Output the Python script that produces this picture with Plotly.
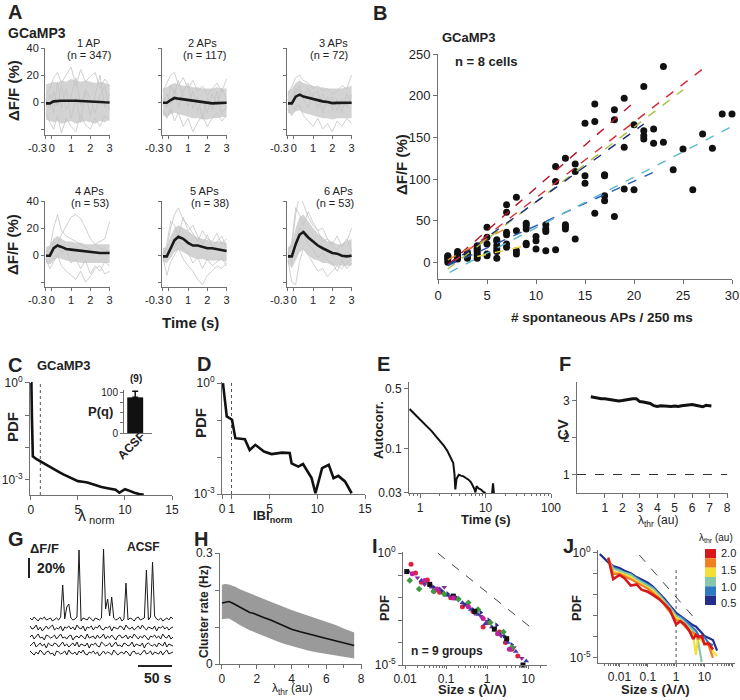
import plotly.graph_objects as go

W, H = 740, 700
FONT = "Liberation Sans, Arial, sans-serif"
AX = "#707070"
TXT = "#222222"

# ---------------- data ----------------
# Panel A: time base and traces (dF/F %)
tA = [-0.3, -0.1, 0.1, 0.3, 0.5, 0.75, 1.0, 1.25, 1.5, 1.75, 2.0, 2.25, 2.5, 2.75, 3.0]
A_ticks = [-0.3, 0, 1, 2, 3]
A_ticklabels = ["-0.3", "0", "1", "2", "3"]
A_titles = ["1 AP", "2 APs", "3 APs", "4 APs", "5 APs", "6 APs"]
A_counts = ["(n = 347)", "(n = 117)", "(n = 72)", "(n = 53)", "(n = 38)", "(n = 53)"]
up1 = [13, 14, 15, 14, 16, 15, 17, 16, 15, 16, 15, 14, 15, 14, 13]
lo1 = [-13, -14, -15, -14, -16, -15, -14, -16, -15, -14, -15, -16, -14, -15, -13]
o1 = [[5, 10, 18, 22, 14, 20, 26, 12, 24, 15, 19, 22, 10, 17, 12],
      [-8, -15, -20, -10, -23, -12, -18, -22, -9, -17, -20, -12, -18, -10, -14],
      [2, -5, 8, -3, 12, -6, 4, 18, -2, 8, -10, 5, 20, -4, 6],
      [-3, 6, -8, 15, -5, 10, -12, 3, -15, 10, 2, -8, 5, 12, -6]]
mean1 = [-1, -1, 0.5, 1, 1, 1, 1.2, 1, 0.8, 0.5, 0.3, 0, -0.2, -0.2, -0.3]
up2 = [10, 11, 13, 14, 13, 12, 12, 11, 11, 10, 10, 10, 11, 10, 10]
lo2 = [-10, -11, -9, -8, -9, -10, -11, -12, -12, -13, -13, -12, -12, -11, -11]
o2 = [[8, 14, 20, 22, 12, 18, 10, 16, 8, 12, 5, 10, 14, 8, 17],
      [-6, -12, -5, -14, -8, -18, -12, -22, -15, -10, -18, -12, -8, -14, -10],
      [3, -4, 12, 6, 16, 4, -3, 8, -6, 2, -8, 6, -2, 10, 2],
      [-2, 6, -2, 10, -4, 8, 14, -5, 4, -12, 3, -6, 8, -9, -3]]
mean2 = [-0.5, -0.5, 1.5, 3, 2.5, 2, 1.5, 1, 0.5, -0.3, -1, -1, -0.8, -0.5, -0.5]
up3 = [8, 10, 14, 16, 14, 13, 12, 11, 11, 10, 10, 10, 10, 11, 12]
lo3 = [-8, -9, -7, -6, -8, -9, -10, -11, -12, -12, -13, -12, -12, -12, -12]
o3 = [[5, 12, 18, 20, 16, 14, 10, 12, 8, 10, 6, 8, 12, 10, 20],
      [-5, -10, -4, -2, -10, -14, -18, -12, -20, -16, -22, -14, -18, -12, -16],
      [2, -3, 10, 8, 4, 10, 2, -4, 6, -2, 4, -6, 2, -4, 5],
      [-2, 4, 6, 12, 2, -4, 6, 8, -8, 4, -6, 2, -8, 6, -2]]
mean3 = [-1, -1, 4, 5.5, 4, 3, 2, 1.5, 0.5, 0, -0.8, -0.6, -0.5, -0.5, -0.5]
up4 = [6, 7, 12, 14, 12, 10, 10, 9, 9, 8, 8, 8, 8, 8, 8]
lo4 = [-6, -7, -4, -2, -3, -4, -5, -5, -6, -6, -6, -6, -6, -6, -6]
o4 = [[2, 5, 20, 30, 18, 14, 12, 10, 8, 6, 4, 8, 10, 12, 25],
      [0, 2, 5, 8, 15, 22, 28, 30, 27, 20, 12, 8, 5, 4, 3],
      [-3, -10, -5, 0, -8, -12, -15, -18, -12, -20, -16, -10, -8, -14, -12],
      [1, -2, 10, 6, 2, 4, -6, -3, -10, -4, -14, -8, -12, -5, -8]]
mean4 = [-0.5, -0.5, 5, 7, 6, 4.5, 4, 3.5, 3, 3, 2, 1.5, 1.5, 1.5, 1.5]
up5 = [5, 6, 14, 20, 22, 20, 18, 15, 13, 12, 11, 10, 10, 10, 9]
lo5 = [-5, -6, -2, 2, 4, 2, 0, -2, -3, -3, -4, -4, -4, -4, -5]
o5 = [[2, 4, 20, 30, 35, 26, 22, 16, 10, 18, 12, 10, 16, 8, 12],
      [-2, -15, -5, 0, 5, -3, -8, -12, -18, -22, -15, -12, -8, -10, -6],
      [0, 8, 25, 22, 14, 28, 18, 22, 14, 8, 15, 6, 10, 14, 5],
      [-4, 0, 4, 6, 10, 5, 2, -6, -2, -10, -3, -8, -5, -2, -8]]
mean5 = [-1, -1, 5, 11, 13.5, 12, 9, 7, 7, 6, 5, 5, 4.5, 4, 3]
up6 = [6, 8, 20, 28, 30, 25, 20, 16, 13, 10, 10, 8, 8, 10, 12]
lo6 = [-6, -10, -4, 2, 4, 0, -3, -4, -6, -6, -8, -8, -8, -8, -8]
o6 = [[4, 6, 30, 45, 38, 28, 22, 18, 10, 12, 6, 4, 8, 10, 20],
      [-4, -20, -22, -5, 5, 0, -6, -12, -10, -16, -12, -8, -10, -6, -4],
      [0, 10, 35, 30, 22, 32, 24, 18, 20, 12, 8, 14, 6, 12, 3],
      [2, -6, 10, 20, 16, 8, 4, -2, 2, -4, -6, -12, -4, -10, -6]]
mean6 = [-1, -1, 8, 15, 17, 13, 10, 7, 5, 3, 1.5, 1, -0.5, -1, -0.5]
A_up = [up1, up2, up3, up4, up5, up6]
A_lo = [lo1, lo2, lo3, lo4, lo5, lo6]
A_out = [o1, o2, o3, o4, o5, o6]
A_mean = [mean1, mean2, mean3, mean4, mean5, mean6]

# Panel B: scatter of dF/F vs spontaneous APs, and per-cell fits
bx = [1, 1, 1, 1, 1, 2, 2, 2, 2, 2, 3, 3, 3, 3, 4, 4, 4, 4, 4, 4, 4, 5, 5, 5, 5, 5,
      6, 6, 6, 6, 6, 6, 7, 7, 7, 7, 7, 7, 8, 8, 8, 8, 9, 9, 9, 9, 9, 10, 10, 10,
      11, 11, 11, 11, 12, 12, 12, 13, 13, 13, 13, 14, 14, 14, 15, 15, 15, 16, 16, 16,
      17, 17, 17, 17, 18, 18, 18, 19, 19, 19, 20, 20, 21, 21, 21, 21, 22, 22, 23, 23,
      24, 25, 26, 27, 28, 29, 30]
by = [0, 3, 5, 7, 8, 4, 6, 8, 10, 13, 5, 8, 10, 12, 5, 8, 10, 13, 15, 17, 20, 8, 10, 22, 30, 42,
      5, 13, 16, 20, 25, 27, 18, 22, 33, 36, 60, 69, 10, 14, 38, 78, 21, 23, 40, 44, 47, 16, 26, 31,
      14, 37, 40, 45, 15, 97, 115, 40, 43, 45, 125, 28, 109, 118, 95, 104, 167, 59, 169, 190,
      74, 80, 104, 105, 55, 171, 183, 88, 138, 197, 87, 165, 148, 152, 158, 211, 143, 160, 144, 235,
      111, 136, 87, 154, 137, 178, 178]
fit_x0 = [1, 1.5, 1, 1, 1, 1.2, 4, 1]
fit_x1 = [20, 27, 25, 21, 22, 30, 9, 7]
fit_y0 = [-3, 0, -8, -4, -4, -12, 7, 3]
fit_y1 = [192, 232, 207, 166, 108, 163, 20, 41]
fit_colors = ["#b8102a", "#d42a3a", "#a8c040", "#1a2a80", "#2a5ab0", "#5ab8c8", "#e8d840", "#e88a30"]

# Panel C: PDF of lambda_norm (log10 PDF)
xC = [0.0, 0.05, 0.1, 0.2, 0.6, 1.0, 1.5, 2.0, 2.5, 3.0, 3.5, 4.0, 4.5, 5.0, 5.5, 6.0, 6.5, 7.0,
      7.5, 8.0, 8.5, 9.0, 9.4, 9.7, 10.0, 10.3, 10.6, 11.0, 11.5, 12.0]
lyC = [0.0, 0.0, -1.0, -2.27, -2.36, -2.43, -2.52, -2.6, -2.68, -2.76, -2.84, -2.91, -2.98, -3.04,
       -3.06, -3.08, -3.13, -3.18, -3.22, -3.25, -3.28, -3.31, -3.40, -3.35, -3.29, -3.32, -3.36,
       -3.40, -3.44, -3.46]
inset_cat = ["ACSF"]
inset_val = [87]
inset_err = [15]
inset_n = "(9)"

# Panel D: PDF of IBI_norm (log10 PDF)
xD = [0.1, 0.5, 1.05, 1.4, 2.4, 2.9, 3.5, 4.4, 5.2, 6.3, 7.1, 7.3, 8.0, 8.5, 9.4, 9.8, 10.5,
      11.2, 11.7, 12.2, 12.9, 13.6]
lyD = [0.0, -0.9, -0.99, -1.49, -1.52, -1.81, -1.67, -1.85, -1.92, -1.88, -1.89, -2.17, -2.26,
       -2.19, -2.57, -2.98, -2.3, -2.21, -2.57, -2.51, -2.66, -2.98]

# Panel E: autocorrelation
xE = [0.69, 0.8, 1.0, 1.25, 1.5, 1.8, 2.0, 2.3, 2.6, 2.9, 3.2, 3.35, 3.45, 3.6, 3.9, 4.2, 4.6,
      5.0, 5.5, 6.0, 6.5, 6.8, 7.0, 7.3, 7.8, 8.5, 9.2, 10.0]
yE = [0.29, 0.26, 0.22, 0.185, 0.16, 0.135, 0.123, 0.108, 0.094, 0.08, 0.068, 0.05, 0.033, 0.044,
      0.049, 0.048, 0.047, 0.045, 0.043, 0.04, 0.036, 0.033, 0.0305, 0.036, 0.034, 0.033, 0.031, 0.030]
xE2 = [12.6, 13.0, 13.4]
yE2 = [0.030, 0.039, 0.030]

# Panel F: CV vs threshold
xF = [0.2, 0.4, 0.6, 0.8, 1.0, 1.2, 1.4, 1.6, 1.8, 2.0, 2.2, 2.4, 2.6, 2.8, 3.0, 3.2, 3.4, 3.6,
      3.8, 4.0, 4.2, 4.4, 4.6, 4.8, 5.0, 5.2, 5.4, 5.6, 5.8, 6.0, 6.2, 6.4, 6.6, 6.8, 7.0, 7.1]
yF = [3.1, 3.08, 3.06, 3.05, 3.05, 3.03, 3.02, 3.0, 2.99, 3.0, 3.02, 3.03, 3.05, 3.05, 2.97, 2.96,
      2.95, 2.92, 2.86, 2.84, 2.86, 2.85, 2.83, 2.84, 2.85, 2.84, 2.86, 2.87, 2.88, 2.89, 2.87, 2.85,
      2.83, 2.87, 2.85, 2.85]
cv_poisson = 1

# Panel G: example dF/F traces (%), sampled every 3 s
G_dt = 3
G_offsets = [0, -9, -18, -26, -34]
G_traces = [
    [1, -1, 2, 0, -2, 1, 0, 2, -1, 0, 1, -2, 0, 1, -1, 2, 34, 0, 12, 15, 1, -1, 0, 2, 69, -2, 1, 0,
     -1, 2, 0, -2, 1, 0, -1, 1, 70, 10, 20, 3, 22, 1, -1, 0, 2, -2, 0, 36, -1, 1, 0, -2, 1, 2, -1, 0,
     1, 49, -1, 2, 57, 3, 0, -1, 1, -2, 0, 1, -1, 2, 0],
    [2, -1, 0, 3, -2, 1, -3, 0, 2, -1, 1, 3, -2, 0, -1, 2, -3, 1, 0, 2, -1, 1, -2, 3, 0, -1, 2, -3,
     1, 0, 2, -2, 1, 0, 3, -1, -2, 1, 0, 2, -3, 1, 0, -1, 2, 1, -2, 3, 0, -1, 1, -2, 0, 2, -1, 3, 0,
     -2, 1, 0, -1, 2, -3, 1, 0, 2, -1, 1, -2, 0, 1],
    [0, 2, -2, 1, 3, -1, 0, -3, 2, 1, -1, 0, 2, -2, 1, 3, -1, 0, -2, 1, 2, -3, 0, 1, -1, 2, 0, -2,
     3, -1, 0, 1, -2, 2, -1, 0, 3, -2, 1, -1, 2, 0, -3, 1, 2, -1, 0, 2, -2, 1, -1, 3, 0, -2, 1, -1,
     2, 0, -3, 1, 0, 2, -1, 1, -2, 3, 0, -1, 2, -2, 0],
    [-1, 1, 3, -2, 0, 2, -1, 1, -3, 2, 0, -1, 2, 1, -2, 0, 3, -1, 1, -2, 0, 2, -1, 3, -2, 1, 0, -1,
     2, -3, 1, 0, 2, -1, -2, 3, 1, -1, 0, 2, -2, 1, 3, -1, 0, -2, 2, 1, -1, 0, 3, -2, 1, 0, -1, 2,
     -3, 1, 2, 0, -1, 1, -2, 2, 0, -1, 3, -2, 1, 0, -1],
    [2, 0, -2, 1, -1, 3, 0, -2, 1, 2, -1, 0, -3, 2, 1, -1, 0, 2, -2, 3, 0, -1, 1, -2, 2, 0, 3, -1,
     -2, 1, 0, 2, -1, 1, -3, 0, 2, -1, 1, 0, -2, 3, 1, -2, 0, 1, -1, 2, 0, -3, 1, 2, -1, 0, -2, 1,
     3, -1, 0, 2, -2, 1, 0, -1, 2, -2, 1, 3, -1, 0, 1],
]
G_bar_pct = 20
G_bar_s = 50

# Panel H: cluster rate vs threshold
xH = [0, 0.2, 0.4, 0.6, 0.8, 1.0, 1.2, 1.4, 1.6, 1.8, 2.0, 2.4, 2.8, 3.2, 3.6, 4.0, 4.5, 5.0,
      5.5, 6.0, 6.5, 7.0, 7.6]
meanH = [0.165, 0.168, 0.169, 0.165, 0.16, 0.155, 0.15, 0.145, 0.139, 0.137, 0.134, 0.126, 0.119,
         0.111, 0.102, 0.094, 0.087, 0.08, 0.075, 0.069, 0.063, 0.057, 0.05]
upH = [0.214, 0.216, 0.215, 0.212, 0.208, 0.203, 0.199, 0.195, 0.19, 0.186, 0.182, 0.175, 0.168,
       0.161, 0.153, 0.146, 0.138, 0.13, 0.122, 0.115, 0.106, 0.096, 0.085]
loH = [0.121, 0.122, 0.123, 0.118, 0.112, 0.106, 0.1, 0.096, 0.091, 0.086, 0.082, 0.075, 0.068,
       0.061, 0.054, 0.048, 0.042, 0.036, 0.031, 0.027, 0.023, 0.019, 0.015]

# Panel I: cluster size PDFs, 9 groups (shown as colour sets)
I_sets = [
    dict(c="#e3203c", s="circle",
         x=[0.014, 0.018, 0.025, 0.035, 0.05, 0.07, 0.13, 0.25, 0.45, 0.8, 1.1, 2.0, 2.8, 4.0, 5.6],
         y=[0.32, 0.13, 0.05, 0.063, 0.02, 0.018, 0.01, 0.004, 0.0025, 5e-4, 8e-4, 3e-4, 1e-4, 5e-5, 2.5e-5]),
    dict(c="#8a2b9e", s="triangle-down",
         x=[0.02, 0.03, 0.04, 0.06, 0.09, 0.12, 0.2, 0.3, 0.5, 0.7, 1.0, 1.5, 2.2, 3.0, 4.5, 7.0],
         y=[0.08, 0.04, 0.035, 0.022, 0.03, 0.012, 0.008, 0.005, 0.002, 0.0015, 9e-4, 4e-4, 2e-4, 1.2e-4, 6e-5, 2e-5]),
    dict(c="#3a3aa8", s="triangle-up",
         x=[0.012, 0.025, 0.045, 0.07, 0.1, 0.16, 0.25, 0.4, 0.6, 0.9, 1.3, 2.0, 3.2, 5.0, 9.0],
         y=[0.15, 0.06, 0.03, 0.025, 0.013, 0.009, 0.006, 0.003, 0.0018, 7e-4, 5e-4, 2.5e-4, 1e-4, 4e-5, 1.5e-5]),
    dict(c="#2c2f8a", s="triangle-right",
         x=[0.03, 0.05, 0.08, 0.11, 0.18, 0.28, 0.45, 0.7, 1.1, 1.7, 2.6, 4.0],
         y=[0.05, 0.03, 0.02, 0.015, 0.01, 0.005, 0.003, 0.0022, 0.001, 6e-4, 2e-4, 8e-5]),
    dict(c="#3e9a3e", s="diamond",
         x=[0.013, 0.022, 0.05, 0.09, 0.2, 0.35, 0.6, 1.2, 2.5, 4.0],
         y=[0.06, 0.025, 0.02, 0.015, 0.009, 0.006, 0.003, 8e-4, 3e-4, 6e-5]),
    dict(c="#111111", s="square",
         x=[0.011, 0.04, 0.15, 0.5, 1.5, 3.0, 7.5],
         y=[0.15, 0.04, 0.012, 0.0025, 4e-4, 1.5e-4, 1e-5]),
    dict(c="#c0209f", s="circle",
         x=[0.015, 0.03, 0.06, 0.15, 0.35, 0.8, 1.8, 3.5],
         y=[0.12, 0.06, 0.025, 0.01, 0.004, 0.0012, 2.5e-4, 5e-5]),
]
I_guide_x = [0.063, 14]
I_guide_ly = [0.0, -3.44]

# Panel J: size PDFs for different thresholds (log10 PDF)
xJ = [0.002, 0.004, 0.006, 0.01, 0.015, 0.025, 0.04, 0.06, 0.1, 0.15, 0.25, 0.4, 0.6, 1.0, 1.4,
      2.0, 2.8, 4.0, 5.0, 6.0, 8.0, 10.0, 14.0, 20.0, 28.0]
N = None
J_colors = ["#232d8c", "#2f78c4", "#86c8aa", "#f3df3a", "#f07f22", "#d7191c"]
J_curves = [
    [-0.05, -0.45, -0.62, -0.72, -0.85, -0.97, -1.15, -1.28, -1.42, -1.6, -1.9, -2.2, -2.5, -2.85,
     -3.0, -3.15, -3.3, -3.45, -3.5, -3.6, -3.8, -3.95, -4.05, -4.15, -4.65],
    [N, -0.35, -0.7, -0.8, -0.95, -1.0, -1.2, -1.35, -1.5, -1.65, -1.95, -2.25, -2.55, -2.95,
     -3.05, -3.2, -3.4, -3.6, -3.7, -3.9, -4.1, -4.0, -4.3, -4.4, N],
    [N, -0.3, -0.75, -0.85, -0.95, -1.05, -1.25, -1.4, -1.55, -1.7, -2.0, -2.3, -2.6, -3.0,
     -3.1, -3.3, -3.5, -3.7, -3.9, -4.2, -5.2, N, N, N, N],
    [N, -0.3, -0.9, -0.95, -1.05, -1.15, -1.35, -1.5, -1.65, -1.8, -2.1, -2.4, -2.7, -3.1,
     -3.2, -3.4, -3.6, -3.9, -4.85, -4.0, -4.2, -4.3, -4.4, -4.7, -4.9],
    [N, -0.2, -1.0, -1.0, -1.1, -1.25, -1.4, -1.55, -1.7, -1.9, -2.15, -2.5, -2.8, -3.2,
     -3.25, -3.5, -3.7, -3.8, -3.9, -4.1, -4.0, -4.3, -4.4, -5.0, N],
    [N, -0.25, -1.25, -1.05, -1.2, -1.55, -1.5, -1.75, -1.85, -2.0, -2.2, -2.45, -2.7, -3.4,
     -3.25, -3.4, -3.65, -4.1, -3.9, -4.0, -3.95, -4.35, -4.3, -4.6, N],
]
J_key_labels = ["2.0", "1.5", "1.0", "0.5"]
J_guide_x = [0.05, 4.8]
J_guide_ly = [-0.1, -3.16]

# ---------------- figure ----------------
fig = go.Figure()
layout = {}
anns = []
shapes = []


def ax_key(kind, n):
    return kind + ("axis" if n == 1 else "axis%d" % n)


def ref(kind, n):
    return kind if n == 1 else "%s%d" % (kind, n)


def base(**kw):
    d = dict(showline=True, linecolor=AX, linewidth=1, ticks="outside", ticklen=4, tickwidth=1,
             tickcolor=AX, showgrid=False, zeroline=False, fixedrange=True, automargin=False,
             tickangle=0, tickfont=dict(size=11, color=TXT, family=FONT))
    d.update(kw)
    return d


def axes(n, x0, x1, y0, y1, xcfg, ycfg):
    xc = base(domain=[x0 / W, x1 / W], anchor=ref("y", n))
    xc.update(xcfg)
    yc = base(domain=[1 - y1 / H, 1 - y0 / H], anchor=ref("x", n))
    yc.update(ycfg)
    layout[ax_key("x", n)] = xc
    layout[ax_key("y", n)] = yc


def add(n, **kw):
    kw.setdefault("hoverinfo", "skip")
    kw.setdefault("showlegend", False)
    fig.add_trace(go.Scatter(xaxis=ref("x", n), yaxis=ref("y", n), **kw))


def T(text, x, y, size=12, bold=False, xa="center", ya="middle", angle=0, color=TXT):
    if bold:
        text = "<b>%s</b>" % text
    anns.append(dict(text=text, x=x / W, y=1 - y / H, xref="paper", yref="paper", showarrow=False,
                     xanchor=xa, yanchor=ya, textangle=angle,
                     font=dict(size=size, family=FONT, color=color)))


TF12 = dict(size=12, color=TXT, family=FONT)

# ----- Panel A -----
A_pos = [(45, 110, 48, 135), (162, 227, 48, 135), (287, 352, 48, 135),
         (45, 110, 201, 287), (162, 227, 201, 287), (287, 352, 201, 287)]
A_title_pos = [(88, 89), (203, 205), (333, 329), (89, 90), (204, 210), (338, 335)]
for i in range(6):
    n = i + 1
    x0, x1, y0, y1 = A_pos[i]
    yr = [-24.4, 40] if i < 3 else [-23.7, 40]
    # the crowded first label ("-0.3") is drawn separately, offset to the left as in the original
    axes(n, x0, x1, y0, y1,
         dict(range=[-0.35, 3.02], tickvals=A_ticks, ticktext=[""] + A_ticklabels[1:], ticklen=3),
         dict(range=yr, tickvals=[-20, 0, 20, 40],
              ticktext=["", "0", "20", "40"] if i % 3 == 0 else ["", "", "", ""], ticklen=3))
    T(A_ticklabels[0], x0 - 8, y1 + 13, 11)
    add(n, x=tA + tA[::-1], y=A_up[i] + A_lo[i][::-1], fill="toself", fillcolor="#d3d3d3",
        mode="lines", line=dict(width=0))
    for tr in A_out[i]:
        add(n, x=tA, y=tr, mode="lines", line=dict(color="#c4c4c4", width=0.8))
    add(n, x=tA, y=A_mean[i], mode="lines", line=dict(color="#1a1a1a", width=2.6))
    yt = 43 if i < 3 else 191
    T(A_titles[i], A_title_pos[i][0], yt, 11)
    T(A_counts[i], A_title_pos[i][1], yt + 12, 11)

T("A", 6, 12, 20, True, xa="left")
T("GCaMP3", 6, 33, 14, True, xa="left")
T("ΔF/F (%)", 13, 91, 15, True, angle=-90)
T("ΔF/F (%)", 13, 245, 15, True, angle=-90)
T("Time (s)", 191, 322, 15, True)

# ----- Panel B -----
axes(7, 438, 732, 54, 279,
     dict(range=[0, 30], tickvals=[0, 5, 10, 15, 20, 25, 30], tickfont=dict(size=13, color=TXT, family=FONT)),
     dict(range=[-20, 250], tickvals=[0, 50, 100, 150, 200, 250], tickfont=dict(size=13, color=TXT, family=FONT)))
add(7, x=bx, y=by, mode="markers", marker=dict(color="#111111", size=7), cliponaxis=False)
for k in range(len(fit_x0)):
    add(7, x=[fit_x0[k], fit_x1[k]], y=[fit_y0[k], fit_y1[k]], mode="lines",
        line=dict(color=fit_colors[k], width=1.4, dash="dash"))
T("B", 380, 13, 20, True)
T("GCaMP3", 440, 38, 13, True, xa="left")
T("n = 8 cells", 453, 62, 13, True, xa="left")
T("ΔF/F (%)", 401, 165, 15, True, angle=-90)
T("# spontaneous APs / 250 ms", 602, 317, 13.5, True)

# ----- Panel C -----
dec_vals3 = [1, 0.1, 0.01, 0.001]
axes(8, 30, 172, 382, 495,
     dict(range=[-0.1, 15], tickvals=[0, 5, 10, 15], tickfont=TF12),
     dict(type="log", range=[-3.47, 0.03], tickvals=dec_vals3,
          ticktext=["10<sup>0</sup>", "", "", "10<sup>-3</sup>"], tickfont=TF12))
add(8, x=[1, 1], y=[10 ** -3.47, 10 ** 0.03], mode="lines", line=dict(color="#555555", width=1, dash="dot"))
add(8, x=xC, y=[10 ** v for v in lyC], mode="lines", line=dict(color="#111111", width=2.6))
# inset
axes(9, 124, 152, 390, 433,
     dict(range=[0, 1], showticklabels=False, ticks=""),
     dict(range=[0, 105], tickvals=[0, 25, 50, 75, 100], ticktext=["0", "", "", "", "100"], ticklen=3,
          tickfont=dict(size=10, color=TXT, family=FONT)))
fig.add_trace(go.Bar(x=[0.4], y=inset_val, width=0.57, marker=dict(color="#111111", line=dict(width=0)),
                     error_y=dict(type="data", array=inset_err, arrayminus=[0], color="#111111",
                                  thickness=1.5, width=3),
                     xaxis="x9", yaxis="y9", showlegend=False, hoverinfo="skip"))
T("C", 6, 365, 20, True, xa="left")
T("GCaMP3", 35, 365, 13, True, xa="left")
T(inset_n, 136, 378, 10, True)
T("P(q)", 100, 412, 13, True)
T(inset_cat[0], 131, 446, 12, True, angle=-45)
T("PDF", 12, 427, 15, True, angle=-90)
T("λ<sub> norm</sub>", 96, 516, 16)

# ----- Panel D -----
axes(10, 222, 365, 382, 494,
     dict(range=[0, 15], tickvals=[0, 1, 5, 10, 15], tickfont=TF12),
     dict(type="log", range=[-3, 0.03], tickvals=dec_vals3,
          ticktext=["10<sup>0</sup>", "", "", "10<sup>-3</sup>"], tickfont=TF12))
add(10, x=[1, 1], y=[10 ** -3, 10 ** 0.03], mode="lines", line=dict(color="#555555", width=1, dash="dot"))
add(10, x=xD, y=[10 ** v for v in lyD], mode="lines", line=dict(color="#111111", width=2.6), cliponaxis=False)
T("D", 195, 364, 20, True, xa="left")
T("PDF", 200, 423, 15, True, angle=-90)
T("IBI<sub>norm</sub>", 272, 516, 13, True)

# ----- Panel E -----
minorE = [0.7, 0.8, 0.9, 2, 3, 4, 5, 6, 7, 8, 9, 20, 30, 40, 50, 60, 70, 80, 90]
axes(11, 409, 551, 382, 493,
     dict(type="log", range=[-0.17, 2.0], tickvals=[1, 10, 100], ticktext=["1", "10", "100"],
          tickfont=TF12, minor=dict(tickvals=minorE, ticks="outside", ticklen=2, tickcolor=AX)),
     dict(type="log", range=[-1.523, -0.22], tickvals=[0.03, 0.1, 0.5], ticktext=["0.03", "0.1", "0.5"],
          tickfont=TF12))
add(11, x=xE, y=yE, mode="lines", line=dict(color="#111111", width=2))
add(11, x=xE2, y=yE2, mode="lines", line=dict(color="#111111", width=2))
T("E", 375, 364, 20, True, xa="left")
T("Autocorr.", 378, 430, 13, True, angle=-90)
T("Time (s)", 486, 519, 13, True)

# ----- Panel F -----
axes(12, 577, 728, 382, 493,
     dict(range=[-0.59, 8.05], tickvals=[1, 2, 3, 4, 5, 6, 7, 8], tickfont=TF12),
     dict(range=[0.5, 3.5], tickvals=[1, 2, 3], tickfont=TF12))
add(12, x=[-0.59, 8.0], y=[cv_poisson, cv_poisson], mode="lines", line=dict(color="#333333", width=1, dash="dash"))
add(12, x=xF, y=yF, mode="lines", line=dict(color="#111111", width=3))
T("F", 557, 364, 20, True, xa="left")
T("CV", 562, 430, 15, True, angle=-90)
T("λ<sub>thr</sub> (au)", 658, 521, 12)

# ----- Panel G -----
axes(13, 26, 175, 540, 672,
     dict(range=[-5.9, 213], visible=False),
     dict(range=[-53, 79], visible=False))
for k, tr in enumerate(G_traces):
    tt = [G_dt * i for i in range(len(tr))]
    add(13, x=tt, y=[G_offsets[k] + v for v in tr], mode="lines", line=dict(color="#1a1a1a", width=1))
add(13, x=[-1.5, -1.5], y=[61 - G_bar_pct, 61], mode="lines", line=dict(color="#222222", width=2))
add(13, x=[208.7 - G_bar_s, 208.7], y=[-47, -47], mode="lines", line=dict(color="#222222", width=2))
T("G", 6, 539, 20, True, xa="left")
T("ΔF/F", 28, 548, 13, True, xa="left")
T("20%", 35, 568, 14, True, xa="left")
T("ACSF", 143, 547, 12, True)
T("50 s", 157, 678, 14, True)

# ----- Panel H -----
axes(14, 220, 362, 553, 664,
     dict(range=[-0.11, 8.05], tickvals=[0, 2, 4, 6, 8], tickfont=TF12,
          minor=dict(tickvals=[1, 3, 5, 7], ticks="outside", ticklen=3, tickcolor=AX)),
     dict(range=[0, 0.3], tickvals=[0, 0.1, 0.2, 0.3], ticktext=["0", "", "", "0.3"], tickfont=TF12))
add(14, x=xH + xH[::-1], y=upH + loH[::-1], fill="toself", fillcolor="#9a9a9a", mode="lines", line=dict(width=0))
add(14, x=xH, y=meanH, mode="lines", line=dict(color="#111111", width=1.6))
T("H", 192, 539, 20, True, xa="left")
T("Cluster rate (Hz)", 204, 612, 12, True, angle=-90)
T("λ<sub>thr</sub> (au)", 292, 689, 12)

# ----- Panel I -----
dec_vals5 = [1, 0.1, 0.01, 1e-3, 1e-4, 1e-5]
dec_text5 = ["10<sup>0</sup>", "", "", "", "", "10<sup>-5</sup>"]
minorI = [0.02, 0.03, 0.04, 0.05, 0.06, 0.07, 0.08, 0.09, 0.2, 0.3, 0.4, 0.5, 0.6, 0.7, 0.8, 0.9,
          2, 3, 4, 5, 6, 7, 8, 9, 20]
axes(15, 403, 547, 552, 665,
     dict(type="log", range=[-2.05, 1.46], tickvals=[0.01, 0.1, 1, 10], ticktext=["0.01", "0.1", "1", "10"],
          tickfont=TF12, ticklen=3, minor=dict(tickvals=minorI, ticks="outside", ticklen=2, tickcolor=AX)),
     dict(type="log", range=[-5.0, 0.05], tickvals=dec_vals5, ticktext=dec_text5, tickfont=TF12))
add(15, x=I_guide_x, y=[10 ** v for v in I_guide_ly], mode="lines", line=dict(color="#444444", width=1, dash="dash"))
for s in I_sets:
    add(15, x=s["x"], y=s["y"], mode="markers", cliponaxis=False,
        marker=dict(color=s["c"], symbol=s["s"], size=5, line=dict(width=0)))
T("I", 370, 546, 20, True, xa="left")
T("PDF", 384, 608, 13, True, angle=-90)
T("n = 9 groups", 447, 651, 12, True)
T("Size <i>s</i> (λ/Λ)", 472, 689, 13, True)

# ----- Panel J -----
minorJ = [0.003, 0.004, 0.005, 0.006, 0.007, 0.008, 0.009, 0.02, 0.03, 0.04, 0.05, 0.06, 0.07, 0.08, 0.09,
          0.2, 0.3, 0.4, 0.5, 0.6, 0.7, 0.8, 0.9, 2, 3, 4, 5, 6, 7, 8, 9, 20, 30, 40, 50, 60, 70, 80, 90]
axes(16, 598, 735, 550, 663,
     dict(type="log", range=[-2.76, 2.08], tickvals=[0.01, 0.1, 1, 10, 100],
          ticktext=["0.01", "0.1", "1", "10", "100"], tickfont=TF12, ticklen=3,
          minor=dict(tickvals=minorJ, ticks="outside", ticklen=2, tickcolor=AX)),
     dict(type="log", range=[-5.24, 0.14], tickvals=dec_vals5, ticktext=dec_text5, tickfont=TF12))
add(16, x=[1, 1], y=[10 ** -5.24, 10 ** -0.8], mode="lines", line=dict(color="#888888", width=1.5, dash="dot"))
add(16, x=J_guide_x, y=[10 ** v for v in J_guide_ly], mode="lines", line=dict(color="#444444", width=1, dash="dash"))
for k, cur in enumerate(J_curves):
    add(16, x=xJ, y=[(10 ** v if v is not None else None) for v in cur], mode="lines",
        line=dict(color=J_colors[k], width=2.6 if k == 5 else 2.2))
T("J", 561, 546, 20, True, xa="left")
T("PDF", 576, 608, 13, True, angle=-90)
T("Size <i>s</i> (λ/Λ)", 655, 689, 13, True)
# threshold colour key
T("λ<sub>thr</sub> (au)", 716, 538, 10)
key_top, key_h = 549, 56
for k, col in enumerate(J_colors[::-1]):
    ya = key_top + k * key_h / 6
    shapes.append(dict(type="rect", xref="paper", yref="paper", x0=705 / W, x1=716 / W,
                       y0=1 - (ya + key_h / 6) / H, y1=1 - ya / H, fillcolor=col, line=dict(width=0)))
for lab, yy in zip(J_key_labels, [553, 570, 587, 603]):
    T(lab, 719, yy, 11, xa="left")

fig.update_layout(width=W, height=H, margin=dict(l=0, r=0, t=0, b=0, autoexpand=False),
                  paper_bgcolor="white", plot_bgcolor="white", showlegend=False,
                  annotations=anns, shapes=shapes, font=dict(family=FONT, color=TXT), **layout)
fig.write_html("out.html", config={"displayModeBar": False},
               post_script="document.body.style.margin='0px';document.body.style.padding='0px';"
                           "document.body.style.overflow='hidden';")
